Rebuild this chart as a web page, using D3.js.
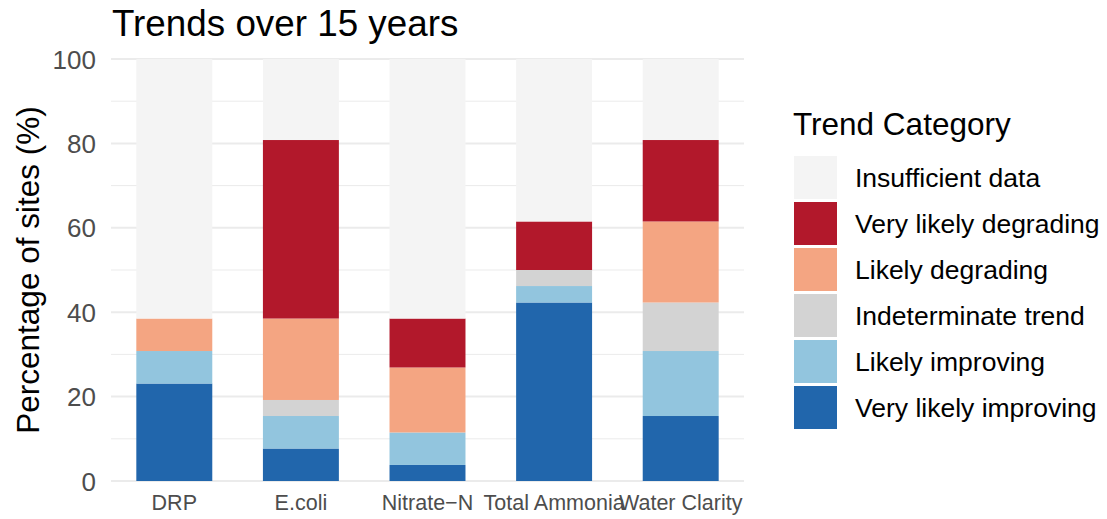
<!DOCTYPE html>
<html>
<head>
<meta charset="utf-8">
<script src="https://cdn.jsdelivr.net/npm/d3@7"></script>
<style>
  html, body { margin: 0; padding: 0; background: #fff; }
  svg { display: block; font-family: "Liberation Sans", Arial, sans-serif; }
</style>
</head>
<body>
<svg id="chart" width="1107" height="519"></svg>
<script>
// ---- data ----
const parameters = ["DRP", "E.coli", "Nitrate\u2212N", "Total Ammonia", "Water Clarity"];
const trendCategories = ["Very likely improving", "Likely improving", "Indeterminate trend",
  "Likely degrading", "Very likely degrading", "Insufficient data"];
const legendOrder = ["Insufficient data", "Very likely degrading", "Likely degrading",
  "Indeterminate trend", "Likely improving", "Very likely improving"];
const categoryColors = ["#2166AC", "#92C5DE", "#D3D3D3", "#F4A582", "#B2182B", "#F4F4F4"];

// percentage of sites per parameter, one array per trend category
const veryLikelyImproving = [23.1, 7.7, 3.8, 42.3, 15.4];
const likelyImproving     = [7.7, 7.7, 7.7, 3.9, 15.4];
const indeterminate       = [0, 3.8, 0, 3.8, 11.5];
const likelyDegrading     = [7.7, 19.3, 15.4, 0, 19.2];
const veryLikelyDegrading = [0, 42.3, 11.6, 11.5, 19.3];
const insufficientData    = [61.5, 19.2, 61.5, 38.5, 19.2];
const yTicks = [0, 20, 40, 60, 80, 100];
const yMinorTicks = [10, 30, 50, 70, 90];

const seriesValues = [veryLikelyImproving, likelyImproving, indeterminate,
  likelyDegrading, veryLikelyDegrading, insufficientData];

const rows = parameters.map((p, i) => {
  const r = { parameter: p };
  trendCategories.forEach((c, j) => r[c] = seriesValues[j][i]);
  return r;
});

// ---- layout ----
const svg = d3.select("#chart");
const panel = { left: 111, right: 744, top: 59, bottom: 481 };

const x = d3.scaleBand().domain(parameters)
  .range([panel.left, panel.right]).paddingInner(0.4).paddingOuter(0.2);
const y = d3.scaleLinear().domain([0, 100]).range([panel.bottom, panel.top]);
const color = d3.scaleOrdinal().domain(trendCategories).range(categoryColors);

// gridlines
svg.append("g").selectAll("line").data(yMinorTicks).join("line")
  .attr("x1", panel.left).attr("x2", panel.right)
  .attr("y1", d => y(d)).attr("y2", d => y(d))
  .attr("stroke", "#EBEBEB").attr("stroke-width", 1);
svg.append("g").selectAll("line").data(yTicks).join("line")
  .attr("x1", panel.left).attr("x2", panel.right)
  .attr("y1", d => y(d)).attr("y2", d => y(d))
  .attr("stroke", "#EBEBEB").attr("stroke-width", 2);

// bars
const stack = d3.stack().keys(trendCategories)(rows);
svg.append("g").selectAll("g").data(stack).join("g")
  .attr("fill", d => color(d.key))
  .selectAll("rect").data(d => d).join("rect")
  .attr("x", d => x(d.data.parameter))
  .attr("width", x.bandwidth())
  .attr("y", d => y(d[1]))
  .attr("height", d => y(d[0]) - y(d[1]));

// y axis
const yAxis = svg.append("g").attr("transform", `translate(${panel.left - 15},0)`)
  .call(d3.axisLeft(y).tickValues(yTicks).tickSize(0).tickPadding(0));
yAxis.select(".domain").remove();
yAxis.selectAll("text").attr("fill", "#4D4D4D").style("font-size", "26px")
  .attr("dy", "0.35em");

// x axis
const xAxis = svg.append("g").attr("transform", `translate(0,${panel.bottom})`)
  .call(d3.axisBottom(x).tickSize(0).tickPadding(0));
xAxis.select(".domain").remove();
xAxis.selectAll("text").attr("fill", "#4D4D4D").style("font-size", "21.5px")
  .attr("y", 29).attr("dy", 0);

// axis title
svg.append("text")
  .attr("transform", `translate(39,${(panel.top + panel.bottom) / 2}) rotate(-90)`)
  .attr("text-anchor", "middle")
  .style("font-size", "31.5px").attr("fill", "#000")
  .text("Percentage of sites (%)");

// title
svg.append("text").attr("x", 112).attr("y", 36)
  .style("font-size", "36.8px").attr("fill", "#000")
  .text("Trends over 15 years");

// legend
const legend = svg.append("g");
legend.append("text").attr("x", 793).attr("y", 135)
  .style("font-size", "31.5px").attr("fill", "#000").text("Trend Category");
const items = legend.selectAll("g.item").data(legendOrder).join("g")
  .attr("class", "item")
  .attr("transform", (d, i) => `translate(794,${156 + i * 46})`);
items.append("rect").attr("width", 43).attr("height", 43)
  .attr("fill", d => color(d));
items.append("text").attr("x", 61).attr("y", 21.5).attr("dy", "0.36em")
  .style("font-size", "26.5px").attr("fill", "#000").text(d => d);
</script>
</body>
</html>
